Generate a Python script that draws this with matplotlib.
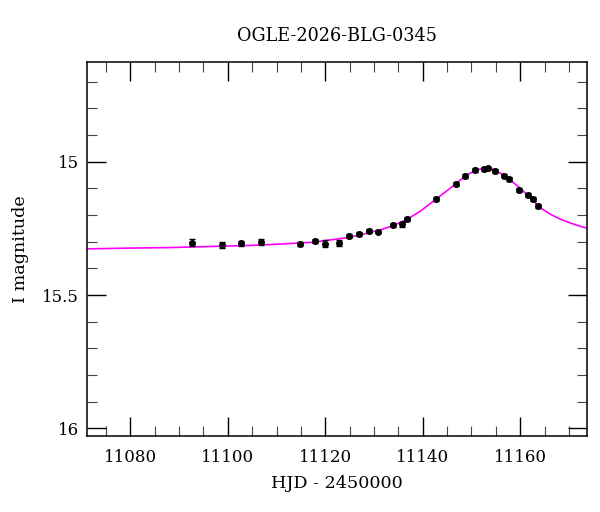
#!/usr/bin/env python3
import matplotlib
matplotlib.use("Agg")
import matplotlib.pyplot as plt
from matplotlib.ticker import MultipleLocator, FormatStrFormatter

# photometry: HJD-2450000, I mag, error
hjd = [11092.7, 11098.8, 11102.8, 11106.8, 11114.8, 11117.8, 11119.9, 11122.8,
       11124.9, 11126.9, 11128.9, 11130.9, 11133.8, 11135.8, 11136.7,
       11142.7, 11146.8, 11148.7, 11150.7, 11152.5, 11153.4, 11154.9,
       11156.7, 11157.8, 11159.8, 11161.7, 11162.7, 11163.7]
mag = [15.304, 15.312, 15.306, 15.301, 15.309, 15.296, 15.307, 15.306,
       15.279, 15.272, 15.261, 15.262, 15.237, 15.235, 15.215,
       15.141, 15.084, 15.054, 15.031, 15.028, 15.025, 15.035,
       15.052, 15.065, 15.106, 15.125, 15.141, 15.165]
err = [0.013, 0.010, 0.009, 0.010, 0.008, 0.008, 0.012, 0.012,
       0.007, 0.007, 0.007, 0.007, 0.008, 0.008, 0.008,
       0.007, 0.007, 0.007, 0.007, 0.007, 0.007, 0.007,
       0.007, 0.007, 0.007, 0.007, 0.008, 0.008]

# model curve
model_t = [11071.0, 11079.9, 11088.1, 11096.3, 11104.5, 11110.7, 11117.5, 11124.4,
           11127.8, 11131.2, 11133.9, 11136.8, 11139.4, 11143.55, 11145.6, 11147.7,
           11149.7, 11151.8, 11153.1, 11154.9, 11156.9, 11159.0, 11161.0, 11162.0,
           11164.1, 11166.2, 11168.2, 11170.3, 11172.3, 11173.8]
model_m = [15.327, 15.324, 15.322, 15.318, 15.314, 15.309, 15.302, 15.285,
           15.272, 15.256, 15.240, 15.216, 15.187, 15.129, 15.100, 15.069,
           15.043, 15.027, 15.022, 15.031, 15.054, 15.084, 15.116, 15.134,
           15.172, 15.197, 15.215, 15.230, 15.242, 15.250]

plt.rcParams['font.family'] = ['DejaVu Serif']

fig = plt.figure(figsize=(6, 5.12), dpi=100)
ax = fig.add_axes([0.145, 0.1484, 0.834, 0.7299])

ax.plot(model_t, model_m, color='#ff00ff', lw=1.2, zorder=1)
ax.errorbar(hjd, mag, yerr=err, fmt='o', color='black', ms=4,
            elinewidth=1, capsize=2.5, capthick=1, zorder=2)

ax.set_xlim(11071.1, 11173.8)
ax.set_ylim(16.029, 14.627)

ax.xaxis.set_major_locator(MultipleLocator(20))
ax.xaxis.set_minor_locator(MultipleLocator(5))
ax.yaxis.set_major_locator(MultipleLocator(0.5))
ax.yaxis.set_minor_locator(MultipleLocator(0.1))
ax.yaxis.set_major_formatter(FormatStrFormatter('%g'))

ax.tick_params(which='both', direction='in', top=True, right=True, labelsize=12)
ax.tick_params(which='major', length=13.5, width=1)
ax.tick_params(which='minor', length=7, width=0.8, color='#444444')
ax.tick_params(axis='x', which='major', pad=9)
ax.tick_params(axis='y', which='major', pad=6)
for s in ax.spines.values():
    s.set_linewidth(1.1)

ax.set_xlabel('HJD - 2450000', fontsize=12.6, labelpad=7)
ax.set_ylabel('I magnitude', fontsize=12.6, labelpad=9)
ax.set_title('OGLE-2026-BLG-0345', fontsize=12.7, pad=15)

fig.savefig('out.png', dpi=100)
